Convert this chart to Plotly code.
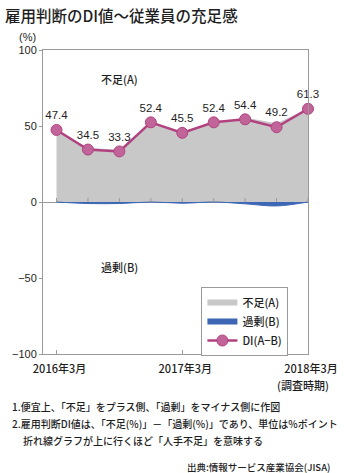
import plotly.graph_objects as go

periods = ["2016年3月", "2016年6月", "2016年9月", "2016年12月", "2017年3月",
           "2017年6月", "2017年9月", "2017年12月", "2018年3月"]
di = [47.4, 34.5, 33.3, 52.4, 45.5, 52.4, 54.4, 49.2, 61.3]
surplus = [0.0, 1.0, 1.0, 0.0, 0.8, 0.0, 1.2, 2.6, 0.0]
shortage = [d + s for d, s in zip(di, surplus)]
tick_periods = ["2016年3月", "2017年3月", "2018年3月"]

JP = "Noto Sans CJK JP"
NUM = "Liberation Sans, Arial"
GRAY = "#c8c8c8"
BLUE = "#3d66b4"
PINK = "#b2427f"
MFILL = "#c0649a"
AX = "#9a9a9a"
TXT = "#1e1e1e"

fig = go.Figure()
fig.add_trace(go.Scatter(x=periods, y=shortage, mode="lines", fill="tozeroy",
                         line=dict(color=GRAY, width=0), fillcolor=GRAY,
                         showlegend=False, hoverinfo="skip"))
fig.add_trace(go.Scatter(x=periods, y=[-v for v in surplus], mode="lines", fill="tozeroy",
                         line=dict(color=BLUE, width=1, shape="spline"), fillcolor=BLUE,
                         showlegend=False, hoverinfo="skip"))
fig.add_trace(go.Scatter(x=periods, y=di, mode="lines+markers+text",
                         text=[f"{v:.1f}" for v in di], textposition="top center",
                         textfont=dict(family=NUM, size=11.5, color=TXT),
                         line=dict(color=PINK, width=2.5),
                         marker=dict(size=11, color=MFILL, line=dict(color=PINK, width=1)),
                         cliponaxis=False, showlegend=False))
# legend proxies
fig.add_trace(go.Scatter(x=[None], y=[None], mode="lines", name="不足(A)",
                         line=dict(color=GRAY, width=6)))
fig.add_trace(go.Scatter(x=[None], y=[None], mode="lines", name="過剰(B)",
                         line=dict(color=BLUE, width=6)))
fig.add_trace(go.Scatter(x=[None], y=[None], mode="lines+markers", name="DI(A−B)",
                         line=dict(color=PINK, width=2.5),
                         marker=dict(size=11, color=MFILL, line=dict(color=PINK, width=1))))

shapes = []
for p in periods:
    shapes.append(dict(type="line", xref="x", yref="y", x0=p, x1=p,
                       ysizemode="pixel", yanchor=0, y0=0, y1=4,
                       line=dict(color=AX, width=1)))

annotations = [
    dict(text="雇用判断のDI値～従業員の充足感", xref="paper", yref="paper",
         x=-41/271, y=(354-15)/304, xanchor="left", yanchor="middle", showarrow=False,
         font=dict(family=JP, size=15.5, color=TXT, weight=500)),
    dict(text="(%)", xref="paper", yref="paper", x=-27/271, y=(354-37)/304,
         xanchor="left", yanchor="middle", showarrow=False,
         font=dict(family=NUM, size=11, color=TXT)),
    dict(text="不足(A)", xref="x", yref="y", x=periods[2], y=81, xanchor="center",
         yanchor="middle", showarrow=False, font=dict(family=JP, size=11, color=TXT, weight=500)),
    dict(text="過剰(B)", xref="x", yref="y", x=periods[2], y=-43, xanchor="center",
         yanchor="middle", showarrow=False, font=dict(family=JP, size=11, color=TXT, weight=500)),
    dict(text="(調査時期)", xref="paper", yref="paper", x=(336-41)/271, y=(354-385)/304,
         xanchor="right", yanchor="middle", showarrow=False,
         font=dict(family=JP, size=11, color=TXT, weight=500)),
    dict(text="1.便宜上、「不足」をプラス側、「過剰」をマイナス側に作図", xref="paper", yref="paper",
         x=-34/271, y=(354-406)/304, xanchor="left", yanchor="middle", showarrow=False,
         font=dict(family=JP, size=10, color=TXT, weight=500)),
    dict(text="2.雇用判断DI値は、「不足(%)」－「過剰(%)」であり、単位は%ポイント", xref="paper", yref="paper",
         x=-34/271, y=(354-424)/304, xanchor="left", yanchor="middle", showarrow=False,
         font=dict(family=JP, size=10, color=TXT, weight=500)),
    dict(text="折れ線グラフが上に行くほど「人手不足」を意味する", xref="paper", yref="paper",
         x=-22/271, y=(354-440)/304, xanchor="left", yanchor="middle", showarrow=False,
         font=dict(family=JP, size=10, color=TXT, weight=500)),
    dict(text="出典:情報サービス産業協会(JISA)", xref="paper", yref="paper",
         x=(337-41)/271, y=(354-467)/304, xanchor="right", yanchor="middle", showarrow=False,
         font=dict(family=JP, size=9.5, color=TXT, weight=500)),
]

fig.update_layout(
    width=350, height=473,
    margin=dict(l=41, r=38, t=50, b=119),
    paper_bgcolor="white", plot_bgcolor="white",
    shapes=shapes, annotations=annotations,
    legend=dict(x=(203-41)/271, y=(354-287)/304, xanchor="left", yanchor="top",
                bordercolor=AX, borderwidth=1, bgcolor="white",
                font=dict(family=JP, size=11, color=TXT, weight=500),
                itemwidth=30, tracegroupgap=0),
    xaxis=dict(type="category", categoryorder="array", categoryarray=periods,
               range=[-0.43, 8.0], tickvals=tick_periods, ticktext=tick_periods,
               ticks="inside", ticklen=4, tickcolor=AX,
               ticklabelstandoff=5, ticklabelshift=3,
               showline=True, linecolor=AX, mirror=True, showgrid=False,
               tickfont=dict(family=JP, size=11, color=TXT, weight=500)),
    yaxis=dict(range=[-100, 100], tickvals=[-100, -50, 0, 50, 100],
               ticks="outside", ticklen=3, tickcolor=AX,
               showline=True, linecolor=AX, mirror=True, showgrid=False,
               zeroline=True, zerolinecolor=AX, zerolinewidth=1,
               tickfont=dict(family=NUM, size=11, color=TXT)),
)

fig.write_html("out.html")
